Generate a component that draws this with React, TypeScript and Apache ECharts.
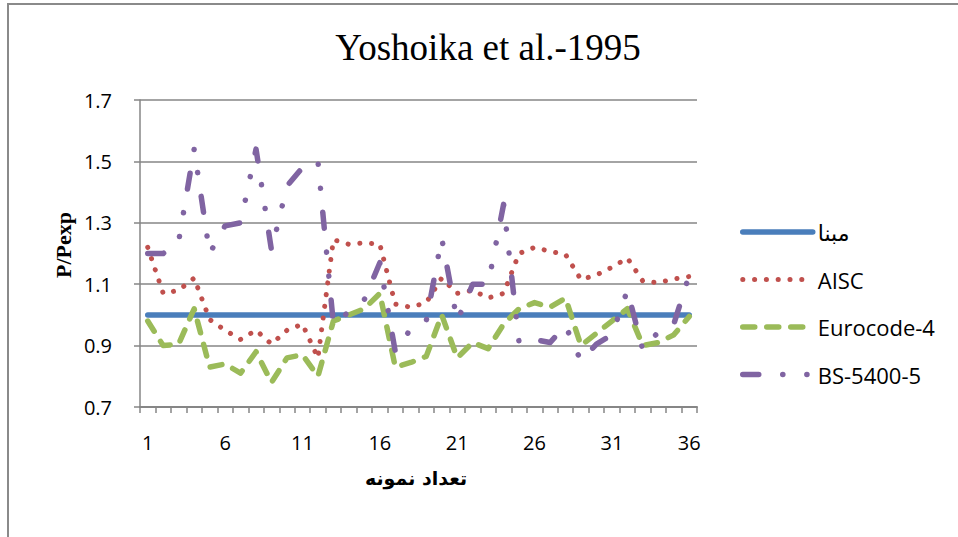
import React, { useEffect, useRef } from "react";
import * as echarts from "echarts";

const categories = [
  "1", "2", "3", "4", "5", "6", "7", "8", "9", "10", "11", "12",
  "13", "14", "15", "16", "17", "18", "19", "20", "21", "22", "23", "24",
  "25", "26", "27", "28", "29", "30", "31", "32", "33", "34", "35", "36",
];

const seriesNames = ["مبنا", "AISC", "Eurocode-4", "BS-5400-5"];

const mabna = [
  1, 1, 1, 1, 1, 1, 1, 1, 1, 1, 1, 1,
  1, 1, 1, 1, 1, 1, 1, 1, 1, 1, 1, 1,
  1, 1, 1, 1, 1, 1, 1, 1, 1, 1, 1, 1,
];

const aisc = [
  1.22, 1.07, 1.08, 1.12, 0.985, 0.95, 0.92, 0.95, 0.905, 0.95, 0.97, 0.86,
  1.245, 1.23, 1.235, 1.23, 1.035, 1.025, 1.04, 1.12, 1.07, 1.08, 1.055, 1.07,
  1.2, 1.22, 1.207, 1.197, 1.115, 1.13, 1.155, 1.185, 1.11, 1.105, 1.117, 1.125,
];

const eurocode = [
  0.98, 0.9, 0.905, 1.02, 0.83, 0.84, 0.81, 0.88, 0.78, 0.86, 0.87, 0.8,
  0.98, 1.0, 1.02, 1.07, 0.83, 0.845, 0.865, 1.0, 0.86, 0.91, 0.89, 0.97,
  1.02, 1.04, 1.025, 1.055, 0.9, 0.94, 0.98, 1.02, 0.9, 0.91, 0.935, 0.995,
];

const bs5400 = [
  1.2, 1.2, 1.24, 1.54, 1.2, 1.29, 1.3, 1.54, 1.21, 1.42, 1.48, 1.5,
  0.97, 1.01, 1.05, 1.17, 0.88, 0.955, 0.98, 1.25, 0.98, 1.1, 1.1, 1.36,
  0.91, 0.92, 0.91, 0.965, 0.85, 0.905, 0.935, 1.08, 0.885, 0.945, 0.97, 1.13,
];

const yTicks = { min: 0.7, max: 1.7, step: 0.2 };

const titleText = "Yoshoika et al.-1995";
const yName = "P/Pexp";
const xName = "تعداد نمونه";

export default function App() {
  const ref = useRef<HTMLDivElement>(null);

  useEffect(() => {
    if (!ref.current) return;
    const chart = echarts.init(ref.current, null, { renderer: "svg" });
    const gray = "#868686";
    const labelFont = "'Open Sans', 'DejaVu Sans', sans-serif";

    const styles = [
      { color: "#4A7EBB", width: 5.5, type: "solid" as any },
      { color: "#C0504D", width: 5, type: [0.1, 11.7] as any },
      { color: "#9BBB59", width: 5.5, type: [12, 12] as any },
      { color: "#8064A2", width: 5.5, type: [16, 24, 0.1, 24, 0.1, 24] as any },
    ];
    const datasets = [mabna, aisc, eurocode, bs5400];

    chart.setOption({
      animation: false,
      backgroundColor: "#ffffff",
      grid: { left: 140, right: 261, top: 100, bottom: 130 },
      xAxis: {
        type: "category",
        data: categories,
        boundaryGap: true,
        axisLine: { lineStyle: { color: gray, width: 2 } },
        axisTick: { show: true, interval: 0, length: 6, lineStyle: { color: gray, width: 1.5 } },
        axisLabel: { interval: 4, margin: 25, fontSize: 20, fontFamily: labelFont, color: "#000" },
        splitLine: { show: false },
      },
      yAxis: {
        type: "value",
        min: yTicks.min,
        max: yTicks.max,
        interval: yTicks.step,
        axisLine: { show: true, lineStyle: { color: gray, width: 1.5 } },
        axisTick: { show: true, length: 6, lineStyle: { color: gray, width: 1.5 } },
        axisLabel: {
          margin: 28,
          fontSize: 20,
          fontFamily: labelFont,
          color: "#000",
          formatter: (v: number) => v.toFixed(1),
        },
        splitLine: { show: true, lineStyle: { color: gray, width: 1.5 } },
      },
      legend: {
        orient: "vertical",
        left: 740,
        top: 220,
        padding: 0,
        itemWidth: 70,
        itemHeight: 24,
        itemGap: 23.5,
        itemStyle: { opacity: 0 },
        textStyle: { fontSize: 22, fontFamily: labelFont, color: "#000", lineHeight: 24 },
        data: seriesNames.map((name, i) => ({
          name,
          itemStyle: { opacity: 0 },
          lineStyle: { color: styles[i].color, width: styles[i].width, type: styles[i].type, cap: "round" },
        })),
      },
      series: seriesNames.map((name, i) => ({
        name,
        type: "line",
        data: datasets[i],
        symbol: "none",
        showSymbol: false,
        itemStyle: { color: styles[i].color },
        lineStyle: { color: styles[i].color, width: styles[i].width, type: styles[i].type, cap: "round", join: "round" },
        emphasis: { disabled: true },
      })),
      graphic: [
        {
          type: "rect",
          shape: { x: 8, y: 4, width: 1000, height: 600 },
          style: { fill: "none", stroke: "#8a8a8a", lineWidth: 2 },
          silent: true,
        },
        {
          type: "text",
          x: 488,
          y: 47,
          style: {
            text: titleText,
            fontSize: 37,
            fontFamily: "'Liberation Serif', 'Times New Roman', serif",
            fill: "#000",
            textAlign: "center",
            textVerticalAlign: "middle",
          },
        },
        {
          type: "text",
          x: 63,
          y: 245,
          rotation: Math.PI / 2,
          style: {
            text: yName,
            fontSize: 22,
            fontWeight: "bold",
            fontFamily: "'Liberation Serif', 'Times New Roman', serif",
            fill: "#000",
            textAlign: "center",
            textVerticalAlign: "middle",
          },
        },
        {
          type: "text",
          x: 416,
          y: 478,
          style: {
            text: xName,
            fontSize: 19,
            fontWeight: "bold",
            fontFamily: "'DejaVu Sans', sans-serif",
            fill: "#000",
            textAlign: "center",
            textVerticalAlign: "middle",
          },
        },
      ],
    });

    return () => chart.dispose();
  }, []);

  return (
    <div
      ref={ref}
      style={{ position: "fixed", left: 0, top: 0, width: 958, height: 537, background: "#fff" }}
    />
  );
}
